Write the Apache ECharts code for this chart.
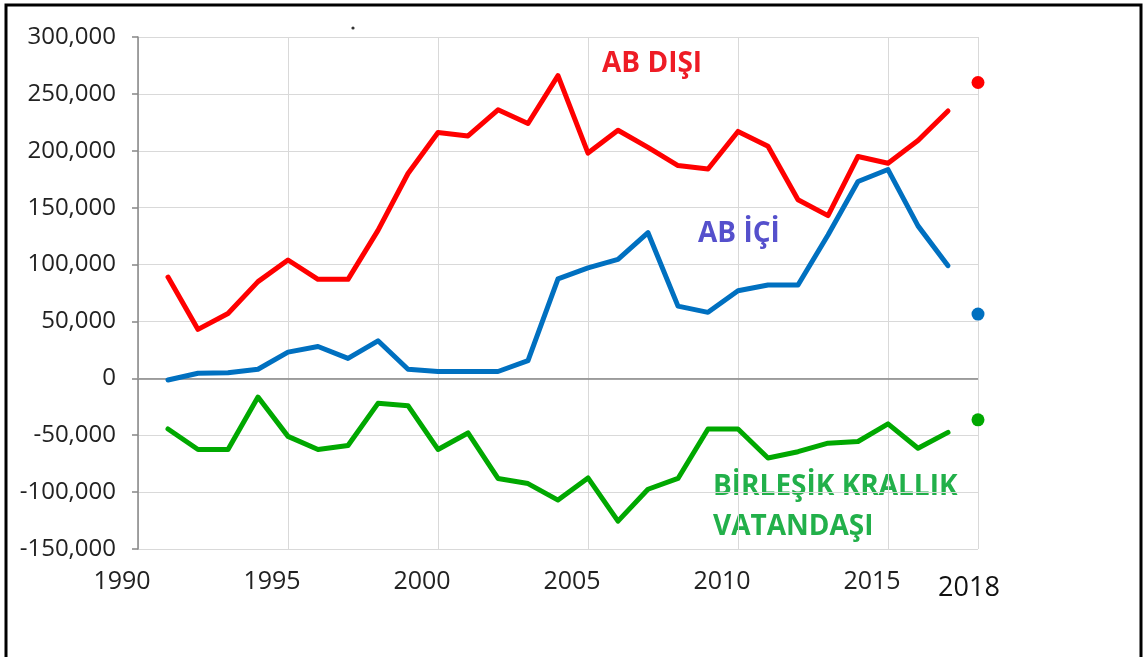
<!DOCTYPE html>
<html>
<head>
<meta charset="utf-8">
<script src="https://cdn.jsdelivr.net/npm/echarts@6/dist/echarts.min.js"></script>
<style>
  html, body { margin: 0; padding: 0; background: #fff; }
  #main { width: 1144px; height: 657px; }
</style>
</head>
<body>
<div id="main"></div>
<script>
// yıllık net göç (1991-2017)
const years = [1991, 1992, 1993, 1994, 1995, 1996, 1997, 1998, 1999, 2000, 2001, 2002, 2003, 2004,
  2005, 2006, 2007, 2008, 2009, 2010, 2011, 2012, 2013, 2014, 2015, 2016, 2017];
const abDisi = [89000, 43000, 57000, 85000, 104000, 87000, 87000, 130000, 180000, 216000, 213000, 236000, 224000, 266000,
  198000, 218000, 203000, 187000, 184000, 217000, 204000, 157000, 143000, 195000, 189000, 209000, 235000];
const abIci = [-1500, 4500, 5000, 8000, 23000, 28000, 17500, 33000, 8000, 6000, 6000, 6000, 15500, 87500,
  97000, 104500, 128000, 63500, 58000, 77000, 82000, 82000, 126000, 173000, 183500, 134000, 99000];
const birlesikKrallik = [-44500, -62500, -62500, -16500, -51000, -62500, -59000, -22000, -24000, -62500, -48000, -88000, -92500, -107000,
  -87500, -125500, -97500, -88000, -44500, -44500, -70000, -64500, -57000, -55500, -40000, -61500, -47500];
// 2018 noktaları
const year2018 = 2018;
const dots2018 = [260000, 56500, -36500];
const dotColors = ['#ff0000', '#0070c0', '#00a800'];

const font = '"Open Sans", "Noto Sans", sans-serif';
const chart = echarts.init(document.getElementById('main'));
const pairs = vals => vals.map((v, i) => [years[i], v]);

const lineSeries = (name, vals, color) => ({
  name: name,
  type: 'line',
  data: pairs(vals),
  symbol: 'none',
  silent: true,
  lineStyle: { color: color, width: 5, cap: 'round', join: 'round' },
  z: 3
});

const option = {
  animation: false,
  backgroundColor: '#fff',
  grid: { left: 138, right: 166, top: 37, bottom: 108, containLabel: false, outerBoundsMode: 'none' },
  xAxis: {
    type: 'value',
    min: 1990,
    max: 2018,
    interval: 5,
    axisLine: { show: true, lineStyle: { color: '#d9d9d9', width: 1 } },
    axisTick: { show: false },
    splitLine: { show: true, lineStyle: { color: '#d9d9d9', width: 1 } },
    axisLabel: {
      margin: 20,
      formatter: v => v === 2018 ? '{b|2018}' : '{a|' + v + '}',
      rich: {
        a: { fontFamily: font, fontSize: 25, color: '#222', padding: [0, 32, 0, 0] },
        b: { fontFamily: font, fontSize: 27, color: '#111', padding: [6, 18, 0, 0] }
      }
    }
  },
  yAxis: {
    type: 'value',
    min: -150000,
    max: 300000,
    interval: 50000,
    axisLine: { show: true, lineStyle: { color: '#868686', width: 1.5 } },
    axisTick: { show: true, length: 6, lineStyle: { color: '#868686', width: 1.5 } },
    splitLine: { show: true, lineStyle: { color: '#d9d9d9', width: 1 } },
    axisLabel: {
      margin: 22,
      fontFamily: font,
      fontSize: 24,
      color: '#222',
      formatter: v => v.toLocaleString('en-US')
    }
  },
  series: [
    Object.assign(lineSeries('AB DIŞI', abDisi, '#ff0000'), {
      markLine: {
        silent: true,
        symbol: 'none',
        label: { show: false },
        lineStyle: { color: '#868686', width: 1.5, type: 'solid' },
        data: [{ yAxis: 0 }],
        z: 2
      }
    }),
    lineSeries('AB İÇİ', abIci, '#0070c0'),
    lineSeries('BİRLEŞİK KRALLIK VATANDAŞI', birlesikKrallik, '#00a800'),
    {
      type: 'scatter',
      symbolSize: 13,
      silent: true,
      itemStyle: { opacity: 1 },
      data: dots2018.map((v, i) => ({ value: [year2018, v], itemStyle: { color: dotColors[i], opacity: 1 } })),
      z: 4
    }
  ],
  graphic: [
    {
      type: 'polyline',
      shape: { points: [[6, 660], [6, 5], [1141, 5], [1141, 660]] },
      style: { stroke: '#000', lineWidth: 3, fill: null },
      silent: true
    },
    { type: 'circle', shape: { cx: 353, cy: 28, r: 1.6 }, style: { fill: '#333' }, silent: true },
    {
      type: 'text', left: 602, top: 50, silent: true,
      style: { text: 'AB DIŞI', fontFamily: font, fontWeight: 'bold', fontSize: 28, fill: '#ee1c25' }
    },
    {
      type: 'text', left: 698, top: 220, silent: true,
      style: { text: 'AB İÇİ', fontFamily: font, fontWeight: 'bold', fontSize: 28, fill: '#5550cc' }
    },
    {
      type: 'text', left: 713, top: 473, silent: true,
      style: { text: 'BİRLEŞİK KRALLIK', fontFamily: font, fontWeight: 'bold', fontSize: 28, fill: '#22b04a' }
    },
    {
      type: 'text', left: 713, top: 513, silent: true,
      style: { text: 'VATANDAŞI', fontFamily: font, fontWeight: 'bold', fontSize: 28, fill: '#22b04a' }
    }
  ]
};

chart.setOption(option);
</script>
</body>
</html>
